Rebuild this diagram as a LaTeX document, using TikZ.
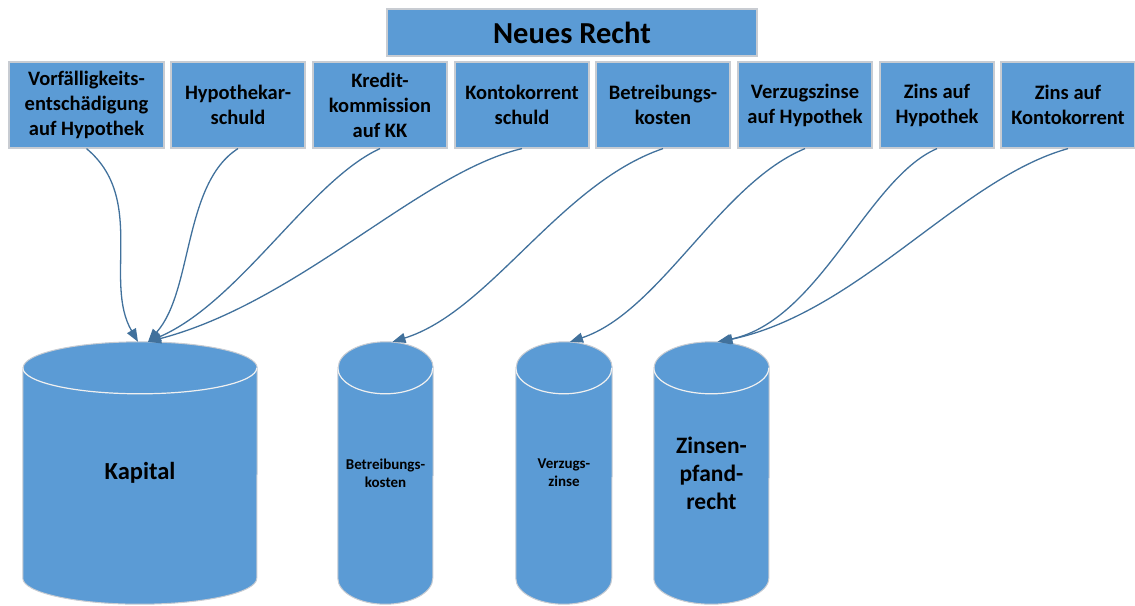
\documentclass[tikz,border=0pt]{standalone}
\usepackage{fontspec}
\setmainfont{Carlito}
\usepackage{xcolor}
\usetikzlibrary{arrows.meta,positioning,calc}
\pgfdeclarelayer{bg}
\pgfsetlayers{bg,main}
\definecolor{boxblue}{HTML}{5B9BD5}
\definecolor{lineblue}{HTML}{41719C}
\definecolor{edgegray}{HTML}{C8CCD2}

\begin{document}
\begin{tikzpicture}[x = 1pt, y = 1pt,
    box/.style = {fill = boxblue, draw = edgegray, line width = 1.2pt, minimum height = 86, align = center, inner sep = 2pt, font = \fontsize{20.5}{25}\selectfont\bfseries},
    conn/.style = {draw = lineblue, line width = 1.3pt, -{Triangle[length = 13pt, width = 10pt]}},
    cylbody/.style = {fill = boxblue, draw = edgegray, line width = 1pt},
    cyltop/.style = {draw = white!88!gray, line width = 1.2pt},
    tank/.style = {minimum height = 262, inner sep = 0pt, align = center}]
    \useasboundingbox (0,0) rectangle (1135,-605);
    % Title
    \node[box, minimum width = 370, minimum height = 47, font = \fontsize{30.5}{34}\selectfont\bfseries] (recht) at (572,-32.5) {Neues Recht};
    % Positions of the law
    \node[box, minimum width = 155] (vorf) at (86.5,-105) {Vorfälligkeits-\\entschädigung\\auf Hypothek};
    \node[box, minimum width = 134] (hypo) at (238,-105) {Hypothekar-\\schuld};
    \node[box, minimum width = 134] (kred) at (380,-105) {Kredit-\\kommission\\auf KK};
    \node[box, minimum width = 134] (konto) at (522,-105) {Kontokorrent\\schuld};
    \node[box, minimum width = 134] (betrk) at (663,-105) {Betreibungs-\\kosten};
    \node[box, minimum width = 134] (verzh) at (805,-105) {Verzugszinse\\auf Hypothek};
    \node[box, minimum width = 114] (zinsh) at (937,-105) {Zins auf\\Hypothek};
    \node[box, minimum width = 134] (zinsk) at (1068,-105) {Zins auf\\Kontokorrent};
    % Tanks
    \node[tank, minimum width = 234, font = \fontsize{24.5}{28}\selectfont\bfseries] (kap) at (140,-473) {Kapital};
    \node[tank, minimum width = 95, font = \fontsize{15}{18}\selectfont\bfseries] (betr) at (385.5,-473) {Betreibungs-\\kosten};
    \node[tank, minimum width = 96, font = \fontsize{15}{18}\selectfont\bfseries] (verz) at (564,-473) {Verzugs-\\zinse};
    \node[tank, minimum width = 115, font = \fontsize{23.5}{28}\selectfont\bfseries] (zins) at (711.5,-473) {Zinsen-\\pfand-\\recht};
    \begin{pgfonlayer}{bg}
    \draw[cylbody] ([yshift=-26]kap.north west) -- ([yshift=26]kap.south west) arc[start angle = 180, end angle = 360, x radius = 117, y radius = 26] -- ([yshift=-26]kap.north east) arc[start angle = 0, end angle = 180, x radius = 117, y radius = 26] -- cycle;
    \draw[cyltop] ([yshift=-26]kap.north west) arc[start angle = 180, end angle = 360, x radius = 117, y radius = 26];
    \draw[cylbody] ([yshift=-26]betr.north west) -- ([yshift=26]betr.south west) arc[start angle = 180, end angle = 360, x radius = 47.5, y radius = 26] -- ([yshift=-26]betr.north east) arc[start angle = 0, end angle = 180, x radius = 47.5, y radius = 26] -- cycle;
    \draw[cyltop] ([yshift=-26]betr.north west) arc[start angle = 180, end angle = 360, x radius = 47.5, y radius = 26];
    \draw[cylbody] ([yshift=-26]verz.north west) -- ([yshift=26]verz.south west) arc[start angle = 180, end angle = 360, x radius = 48, y radius = 26] -- ([yshift=-26]verz.north east) arc[start angle = 0, end angle = 180, x radius = 48, y radius = 26] -- cycle;
    \draw[cyltop] ([yshift=-26]verz.north west) arc[start angle = 180, end angle = 360, x radius = 48, y radius = 26];
    \draw[cylbody] ([yshift=-26]zins.north west) -- ([yshift=26]zins.south west) arc[start angle = 180, end angle = 360, x radius = 57.5, y radius = 26] -- ([yshift=-26]zins.north east) arc[start angle = 0, end angle = 180, x radius = 57.5, y radius = 26] -- cycle;
    \draw[cyltop] ([yshift=-26]zins.north west) arc[start angle = 180, end angle = 360, x radius = 57.5, y radius = 26];
    \end{pgfonlayer}
    % Into the capital
    \draw[conn] (vorf.south) .. controls +(60,-50) and +(-35,60) .. ([xshift=-2]kap.north);
    \draw[conn] (hypo.south) .. controls +(-55,-35) and +(45,50) .. ([xshift=8]kap.north);
    \draw[conn] (kred.south) .. controls +(-70,-32) and +(92,40) .. ([xshift=8]kap.north);
    \draw[conn] (konto.south) .. controls +(-102,-24) and +(152,40) .. ([xshift=8]kap.north);
    % Costs, default interest and interest
    \draw[conn] (betrk.south) .. controls +(-103,-35) and +(97,30) .. ([xshift=7]betr.north);
    \draw[conn] (verzh.south) .. controls +(-85,-35) and +(90,30) .. ([xshift=6]verz.north);
    \draw[conn] (zinsh.south) .. controls +(-70,-30) and +(102,20) .. ([xshift=6]zins.north);
    \draw[conn] (zinsk.south) .. controls +(-108,-30) and +(140,30) .. ([xshift=8]zins.north);
\end{tikzpicture}
\end{document}
